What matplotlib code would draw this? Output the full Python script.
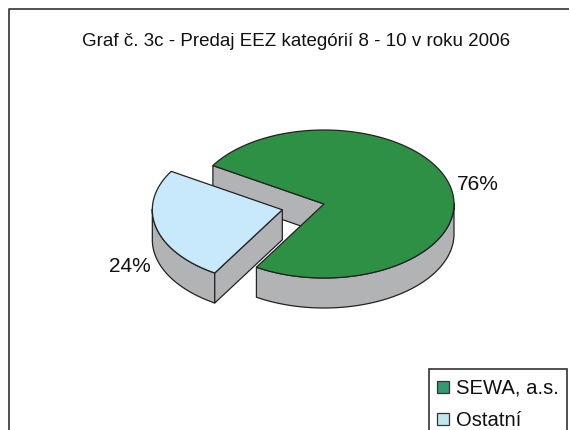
import numpy as np
import matplotlib
matplotlib.use("Agg")
import matplotlib.pyplot as plt
from matplotlib.patches import Rectangle

# Data
categories = ["SEWA, a.s.", "Ostatní"]
values = [76, 24]
value_labels = ["76%", "24%"]
title = "Graf č. 3c - Predaj EEZ kategórií 8 - 10 v roku 2006"

# Colors
GREEN = "#2E9045"
BLUE = "#C8E8FC"
GRAY = "#B2B3B5"
EDGE = "#222222"
LEGEND_COLORS = ["#319B70", "#C0E6EE"]

# Pie geometry, in pixels of the picture
CX, CY = 324, 204
RX, RY = 130, 74
DEPTH = 30
EXPLODE = 0.33
BLUE_MID = 193.7
WARP = 2.6  # perspective stretches the front of the pie a little

plt.rcParams["font.family"] = ["Liberation Sans", "DejaVu Sans"]

fig = plt.figure(figsize=(5.69, 4.30), dpi=100)
ax = fig.add_axes([0, 0, 1, 1])
ax.set_xlim(0, 569)
ax.set_ylim(430, 0)
ax.axis("off")


def warp(a):
    return a + WARP * np.sin(np.radians(a - BLUE_MID))


def ring(a1, a2, cx, cy):
    t = np.radians(warp(np.linspace(a1, a2, 200)))
    return cx + RX * np.cos(t), cy - RY * np.sin(t)


def draw_poly(x, y, color, z):
    ax.fill(x, y, facecolor=color, edgecolor=EDGE, linewidth=0.9, joinstyle="round", zorder=z)


# Slice angles come from the values
blue_span = 360 * values[1] / sum(values)
green_span = 360 * values[0] / sum(values)
b_start = BLUE_MID - blue_span / 2
b_end = BLUE_MID + blue_span / 2
green_end = b_start - green_span

# Green slice: cut wall, outer wall, top
sx, sy = ring(b_start, b_start, CX, CY)
draw_poly([sx[0], CX, CX, sx[0]], [sy[0], CY, CY + DEPTH, sy[0] + DEPTH], GRAY, 1)
wx, wy = ring(green_end, 0, CX, CY)
draw_poly(np.r_[wx, wx[::-1]], np.r_[wy, wy[::-1] + DEPTH], GRAY, 2)
tx, ty = ring(b_start, green_end, CX, CY)
draw_poly(np.r_[CX, tx], np.r_[CY, ty], GREEN, 3)

# Blue slice, pulled out of the pie
bx = CX + EXPLODE * RX * np.cos(np.radians(BLUE_MID))
by = CY - EXPLODE * RY * np.sin(np.radians(BLUE_MID))
wx, wy = ring(180, b_end, bx, by)
draw_poly(np.r_[wx, wx[::-1]], np.r_[wy, wy[::-1] + DEPTH], GRAY, 4)
ex, ey = ring(b_end, b_end, bx, by)
draw_poly([bx, ex[0], ex[0], bx], [by, ey[0], ey[0] + DEPTH, by + DEPTH], GRAY, 5)
tx, ty = ring(b_start, b_end, bx, by)
draw_poly(np.r_[bx, tx], np.r_[by, ty], BLUE, 6)

# Value labels
ax.text(457, 185, value_labels[0], fontsize=15, ha="left", va="center", color="#111111")
ax.text(109, 266, value_labels[1], fontsize=15, ha="left", va="center", color="#111111")

# Title
ax.text(296, 41, title, fontsize=13.5, ha="center", va="center", color="#111111")

# Outer frame, running off the picture at right and bottom
ax.plot([9, 9, 569], [430, 9, 9], color="#333333", lw=1.2, zorder=7)

# Legend box, also cut by the bottom of the picture
ax.add_patch(Rectangle((429, 369), 138, 70, facecolor="white", edgecolor="#333333", lw=1.2, zorder=8))
for i, name in enumerate(categories):
    y = 387 + i * 32
    ax.add_patch(Rectangle((437, y - 6), 12, 12, facecolor=LEGEND_COLORS[i], edgecolor="#333333", lw=0.9, zorder=9))
    ax.text(456, y + 1, name, fontsize=14.6, ha="left", va="center", color="#111111", zorder=9)

plt.savefig("out.png", dpi=100)
